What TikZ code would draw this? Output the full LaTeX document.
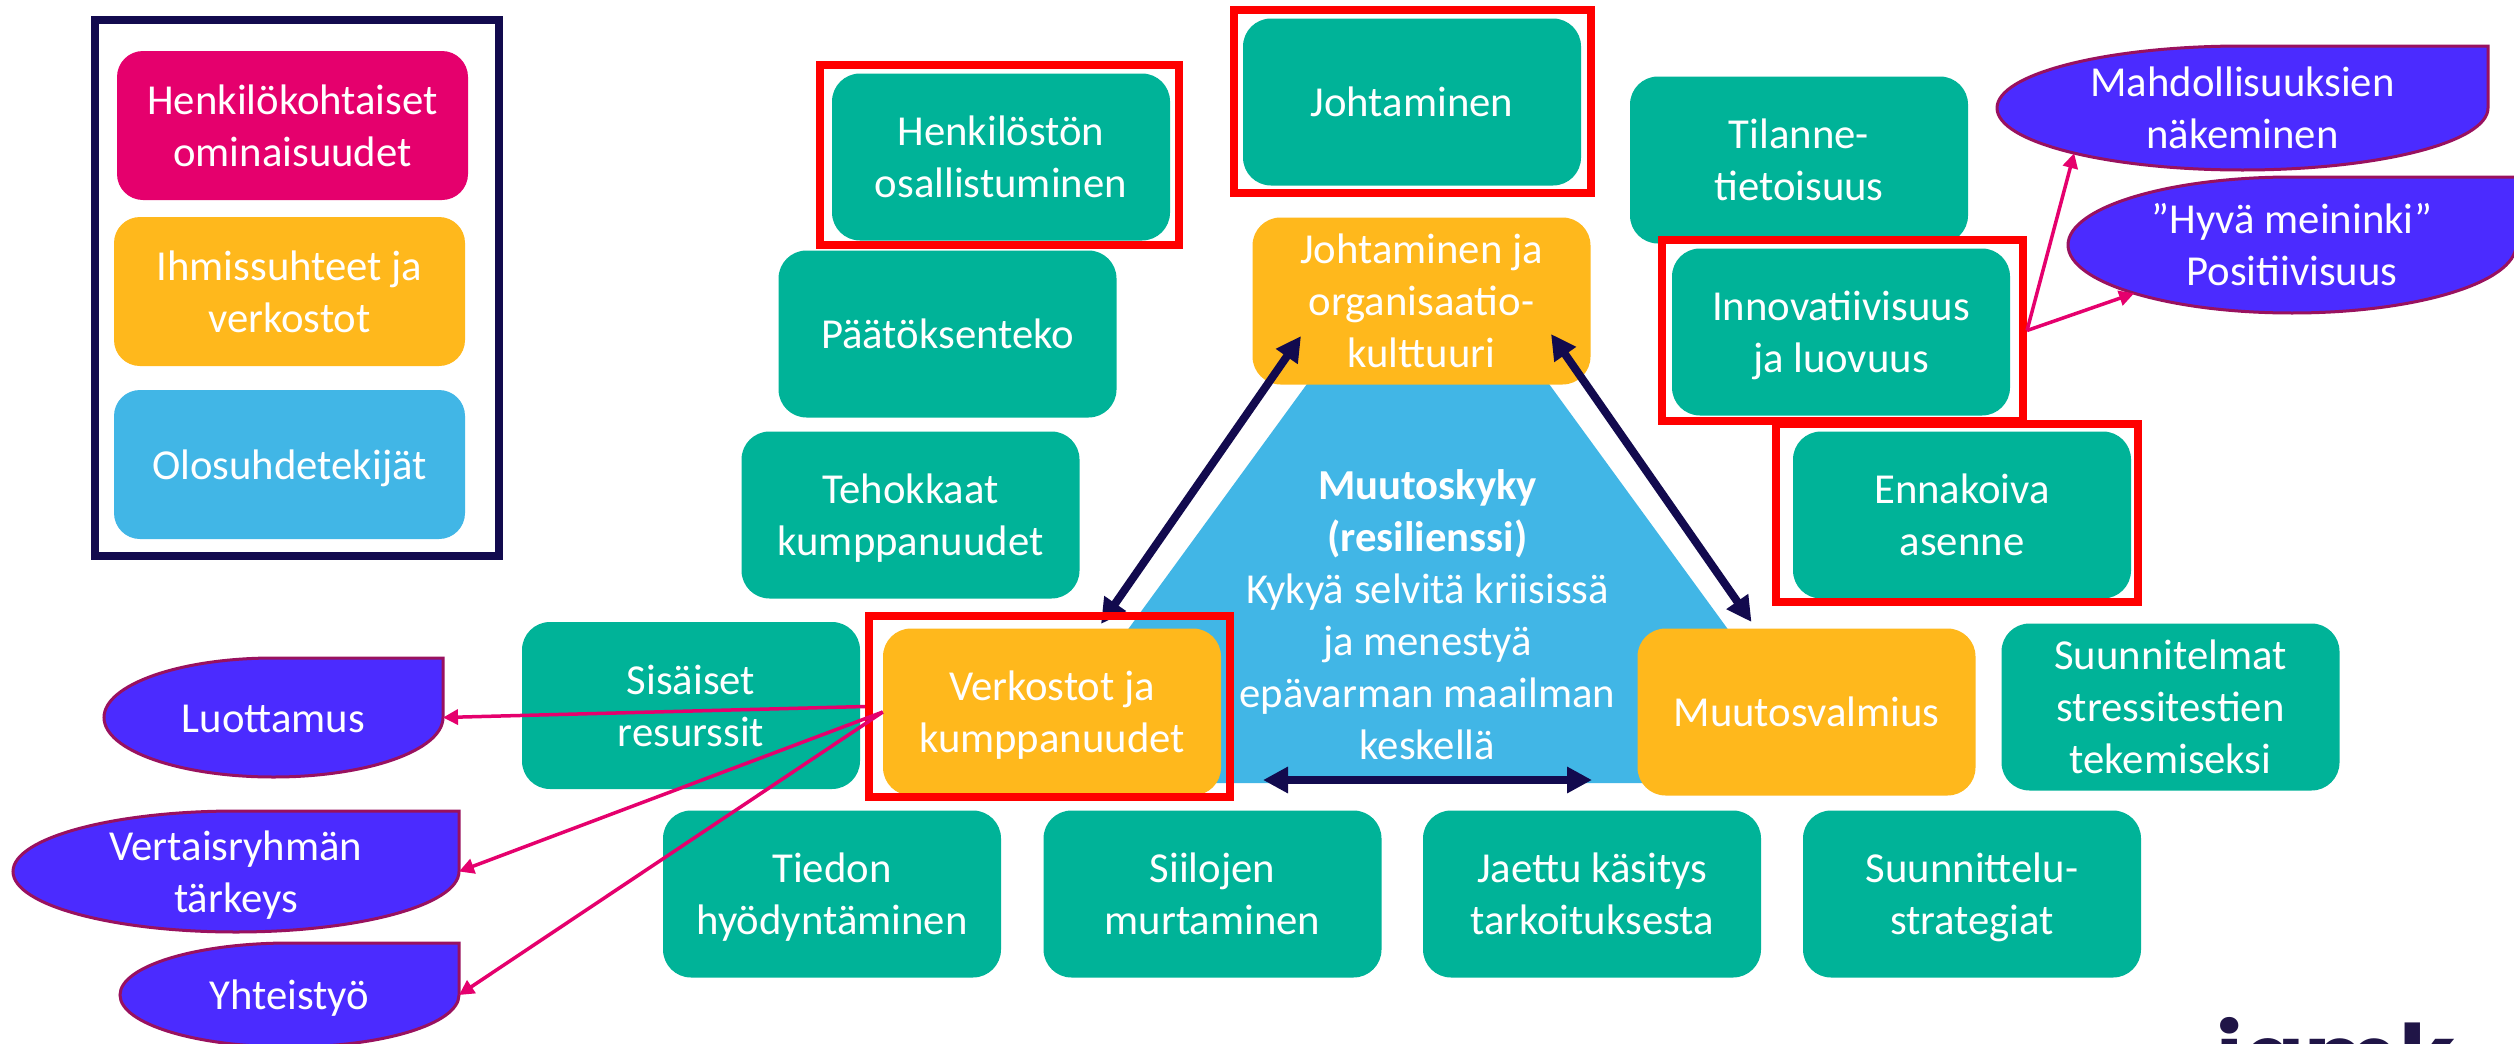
\documentclass[tikz,border=0pt]{standalone}
\usepackage{fontspec}
\setmainfont{Carlito}
\newfontfamily\logofont{Poppins}
\usetikzlibrary{arrows.meta,shapes.geometric}
\definecolor{cteal}{HTML}{00B398}
\definecolor{corange}{HTML}{FFB81C}
\definecolor{cblue}{HTML}{41B6E6}
\definecolor{cpink}{HTML}{E5006D}
\definecolor{cblob}{HTML}{4B2BFF}
\definecolor{cblobline}{HTML}{99115F}
\definecolor{cnavy}{HTML}{120A4E}
\definecolor{clogo}{HTML}{201547}
\newcommand{\ftop}{\rule{0pt}{40pt}}
\tikzset{
  x=1pt,y=-1pt,
  labeltext/.style={text=white,font=\fontsize{42.7}{52}\selectfont,align=center,inner sep=0pt,
    execute at begin node={\rule{0pt}{40pt}},execute at end node={\rule[-11pt]{0pt}{11pt}}},
  box/.style={labeltext,rounded corners=28pt,minimum width=338pt,minimum height=167pt},
  tealbox/.style={box,fill=cteal},
  orangebox/.style={box,fill=corange},
  legendbox/.style={labeltext,rounded corners=26pt,minimum width=351pt,minimum height=149pt},
  redframe/.style={draw=red,line width=8pt,inner sep=0pt},
  navyarrow/.style={draw=cnavy,line width=8pt,{Triangle[length=25pt,width=25pt]}-{Triangle[length=25pt,width=25pt]}},
  pinkarrow/.style={draw=cpink,line width=3.5pt,-{Triangle[length=15pt,width=15pt]}},
  blobpath/.style={fill=cblob,draw=cblobline,line width=3pt},
  blobanchor/.style={ellipse,inner sep=0pt,outer sep=0pt},
}
\newcommand{\ovalblob}[6]{%
  \pgfmathsetmacro{\cxb}{(#2+#4)/2}%
  \pgfmathsetmacro{\cyb}{(#3+#5)/2}%
  \pgfmathsetmacro{\kxb}{0.5523*(#4-#2)/2}%
  \pgfmathsetmacro{\kyb}{0.5523*(#5-#3)/2}%
  \pgfmathsetmacro{\wb}{#4-#2}%
  \pgfmathsetmacro{\hb}{#5-#3}%
  \path[blobpath] (#4,#3) -- (\cxb,#3)
    .. controls ({\cxb-\kxb},#3) and (#2,{\cyb-\kyb}) .. (#2,\cyb)
    .. controls (#2,{\cyb+\kyb}) and ({\cxb-\kxb},#5) .. (\cxb,#5)
    .. controls ({\cxb+\kxb},#5) and (#4,{\cyb+\kyb}) .. (#4,\cyb) -- cycle;
  \node[blobanchor,minimum width=\wb pt,minimum height=\hb pt] (#1) at (\cxb,\cyb) {};
  \node[labeltext] (#1-text) at (\cxb,\cyb) {#6};
}
\begin{document}
\begin{tikzpicture}
\useasboundingbox (0,0) rectangle (2514,1044);
\fill[white] (0,0) rectangle (2514,1044);

% legend
\node[draw=cnavy,line width=8pt,inner sep=0pt,minimum width=404pt,minimum height=536pt] (legend) at (297,288) {};
\node[legendbox,fill=cpink] (l1) at (292.5,125.5) {\ftop Henkilökohtaiset\\ominaisuudet};
\node[legendbox,fill=corange] (l2) at (289.5,291.5) {\ftop Ihmissuhteet ja\\verkostot};
\node[legendbox,fill=cblue] (l3) at (289.5,464.5) {Olosuhdetekijät};

% central triangle
\fill[cblue] (1428,218) -- (1840,783) -- (1016,783) -- cycle;
\node[labeltext] (core) at (1427.5,615) {\ftop\textbf{Muutoskyky}\\\textbf{(resilienssi)}\\Kykyä selvitä kriisissä\\ja menestyä\\epävarman maailman\\keskellä};

% teal boxes
\node[tealbox] (joht) at (1412,102) {Johtaminen};
\node[tealbox] (henk) at (1001,157) {\ftop Henkilöstön\\osallistuminen};
\node[tealbox] (tila) at (1799,160) {\ftop Tilanne-\\tietoisuus};
\node[tealbox] (inno) at (1841,332) {\ftop Innovatiivisuus\\ja luovuus};
\node[tealbox] (enna) at (1962,515) {\ftop Ennakoiva\\asenne};
\node[tealbox] (paat) at (947.5,334) {Päätöksenteko};
\node[tealbox] (teho) at (910.5,515) {\ftop Tehokkaat\\kumppanuudet};
\node[tealbox] (sisa) at (691,705.5) {\ftop Sisäiset\\resurssit};
\node[tealbox] (suun) at (2170.5,707) {\ftop Suunnitelmat\\stressitestien\\tekemiseksi};
\node[tealbox] (tied) at (832,894) {\ftop Tiedon\\hyödyntäminen};
\node[tealbox] (siil) at (1212.5,894) {\ftop Siilojen\\murtaminen};
\node[tealbox] (jaet) at (1592,894) {\ftop Jaettu käsitys\\tarkoituksesta};
\node[tealbox] (stra) at (1972,894) {\ftop Suunnittelu-\\strategiat};

% orange boxes
\node[orangebox] (orga) at (1421.5,301) {\ftop Johtaminen ja\\organisaatio-\\kulttuuri};
\node[orangebox] (verk) at (1052,712) {\ftop Verkostot ja\\kumppanuudet};
\node[orangebox] (muut) at (1806.5,712) {Muutosvalmius};

% double arrows
\coordinate (aTL) at (1301,336);
\coordinate (aBL) at (1101,624);
\coordinate (aTR) at (1551,334);
\coordinate (aBR) at (1751.5,622);
\coordinate (aHL) at (1263,780);
\coordinate (aHR) at (1592,780);
\draw[navyarrow] (aTL) -- (aBL);
\draw[navyarrow] (aTR) -- (aBR);
\draw[navyarrow] (aHL) -- (aHR);

% red frames
\node[redframe,minimum width=357pt,minimum height=183pt] (fjoht) at (1412.5,101.5) {};
\node[redframe,minimum width=359pt,minimum height=180pt] (fhenk) at (999.5,155) {};
\node[redframe,minimum width=361pt,minimum height=181pt] (finno) at (1842.5,330.5) {};
\node[redframe,minimum width=362pt,minimum height=178pt] (fenna) at (1957,513) {};
\node[redframe,minimum width=361pt,minimum height=181pt] (fverk) at (1049.5,706.5) {};

% ovals
\ovalblob{luot}{104}{658}{443}{777}{Luottamus}
\ovalblob{vert}{13}{811}{459}{932}{\ftop Vertaisryhmän\\tärkeys}
\ovalblob{yhte}{120}{943}{459}{1047}{Yhteistyö}
\ovalblob{mahd}{1997}{46}{2488}{170}{\ftop Mahdollisuuksien\\näkeminen}
\ovalblob{hyva}{2068}{177}{2516}{313}{\ftop ”Hyvä meininki”\\Positiivisuus}

% pink arrows
\draw[pinkarrow] (fverk.west) -- (luot.east);
\draw[pinkarrow] (verk.west) -- (vert.east);
\draw[pinkarrow] (verk.west) -- (yhte.east);
\draw[pinkarrow] (finno.east) -- (mahd.195);
\draw[pinkarrow] (finno.east) -- (hyva.197);

% logo, cut by the page edge
\node[anchor=base,text=clogo,inner sep=0pt,font=\logofont\bfseries\fontsize{90}{90}\selectfont] (logo) at (2336,1089) {jamk};
\end{tikzpicture}
\end{document}
